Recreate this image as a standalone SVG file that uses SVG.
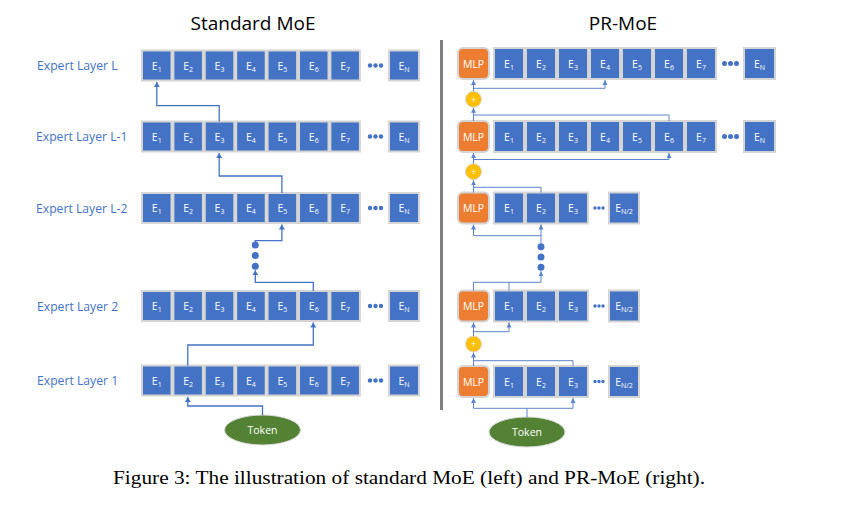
<svg xmlns="http://www.w3.org/2000/svg" width="849" height="508" viewBox="0 0 849 508">
<style>
.e{fill:#4472C4;stroke:#d4d4d4;stroke-width:2}
.m{fill:#ED7D31;stroke:#d4d4d4;stroke-width:2}
.t{font-family:"Open Sans","Noto Sans",sans-serif;fill:#fff;font-size:10.5px;text-anchor:middle}
.s{font-size:7px}
.lb{font-family:"Open Sans","Noto Sans",sans-serif;fill:#4472C4;font-size:12.2px}
.ti{font-family:"Open Sans","Noto Sans",sans-serif;fill:#000;font-size:19px;text-anchor:middle}
.dd{fill:#4472C4}
.cl{fill:none;stroke:#4472C4;stroke-width:1.3}
.cr{fill:none;stroke:#5b84cc;stroke-width:1}
.pl{fill:#FFC000;stroke:#d9d9d9;stroke-width:1}
.pt{font-family:"Open Sans",sans-serif;fill:#fff;font-size:9px;text-anchor:middle}
.tk{fill:#548235;stroke:#d9d9d9;stroke-width:1}
.tkt{font-family:"Open Sans","Noto Sans",sans-serif;fill:#fff;font-size:10.5px;text-anchor:middle}
</style>
<defs>
<marker id="a" markerUnits="userSpaceOnUse" markerWidth="6" markerHeight="6" refX="5" refY="3" orient="auto"><path d="M0,0 L5,3 L0,6 z" fill="#4472C4"/></marker>
<marker id="b" markerUnits="userSpaceOnUse" markerWidth="6" markerHeight="6" refX="5" refY="3" orient="auto"><path d="M0,0.5 L5,3 L0,5.5 z" fill="#5b84cc"/></marker>
<g id="row-left">
<rect class="e" x="0" y="0" width="29.5" height="30"/><text class="t" x="14.75" y="19">E<tspan class="s" dy="2">1</tspan></text>
<rect class="e" x="31.4" y="0" width="29.5" height="30"/><text class="t" x="46.15" y="19">E<tspan class="s" dy="2">2</tspan></text>
<rect class="e" x="62.8" y="0" width="29.5" height="30"/><text class="t" x="77.55" y="19">E<tspan class="s" dy="2">3</tspan></text>
<rect class="e" x="94.2" y="0" width="29.5" height="30"/><text class="t" x="108.95" y="19">E<tspan class="s" dy="2">4</tspan></text>
<rect class="e" x="125.6" y="0" width="29.5" height="30"/><text class="t" x="140.35" y="19">E<tspan class="s" dy="2">5</tspan></text>
<rect class="e" x="157" y="0" width="29.5" height="30"/><text class="t" x="171.75" y="19">E<tspan class="s" dy="2">6</tspan></text>
<rect class="e" x="188.4" y="0" width="29.5" height="30"/><text class="t" x="203.15" y="19">E<tspan class="s" dy="2">7</tspan></text>
<circle class="dd" cx="228" cy="15" r="2.2"/><circle class="dd" cx="233.5" cy="15" r="2.2"/><circle class="dd" cx="239" cy="15" r="2.2"/>
<rect class="e" x="247" y="0" width="30" height="30"/><text class="t" x="262" y="19">E<tspan class="s" dy="2">N</tspan></text>
</g>
<g id="row-full">
<rect class="m" x="0" y="0" width="31" height="31" rx="5"/><text class="t" x="15.5" y="19.5" font-size="11">MLP</text>
<rect class="e" x="36" y="0" width="30" height="31"/><text class="t" x="51" y="19.5">E<tspan class="s" dy="2">1</tspan></text>
<rect class="e" x="68" y="0" width="30" height="31"/><text class="t" x="83" y="19.5">E<tspan class="s" dy="2">2</tspan></text>
<rect class="e" x="100" y="0" width="30" height="31"/><text class="t" x="115" y="19.5">E<tspan class="s" dy="2">3</tspan></text>
<rect class="e" x="132" y="0" width="30" height="31"/><text class="t" x="147" y="19.5">E<tspan class="s" dy="2">4</tspan></text>
<rect class="e" x="164" y="0" width="30" height="31"/><text class="t" x="179" y="19.5">E<tspan class="s" dy="2">5</tspan></text>
<rect class="e" x="196" y="0" width="30" height="31"/><text class="t" x="211" y="19.5">E<tspan class="s" dy="2">6</tspan></text>
<rect class="e" x="228" y="0" width="30" height="31"/><text class="t" x="243" y="19.5">E<tspan class="s" dy="2">7</tspan></text>
<circle class="dd" cx="266.5" cy="15.5" r="2.5"/><circle class="dd" cx="272.5" cy="15.5" r="2.5"/><circle class="dd" cx="278.5" cy="15.5" r="2.5"/>
<rect class="e" x="286" y="0" width="31" height="31"/><text class="t" x="301.5" y="19.5">E<tspan class="s" dy="2">N</tspan></text>
</g>
<g id="row-half">
<rect class="m" x="0" y="0" width="31" height="31" rx="5"/><text class="t" x="15.5" y="19.5" font-size="11">MLP</text>
<rect class="e" x="36" y="0" width="30" height="31"/><text class="t" x="51" y="19.5">E<tspan class="s" dy="2">1</tspan></text>
<rect class="e" x="68" y="0" width="30" height="31"/><text class="t" x="83" y="19.5">E<tspan class="s" dy="2">2</tspan></text>
<rect class="e" x="100" y="0" width="30" height="31"/><text class="t" x="115" y="19.5">E<tspan class="s" dy="2">3</tspan></text>
<circle class="dd" cx="137" cy="15.5" r="1.7"/><circle class="dd" cx="141" cy="15.5" r="1.7"/><circle class="dd" cx="145" cy="15.5" r="1.7"/>
<rect class="e" x="151" y="0" width="30" height="31"/><text class="t" x="166" y="19.5">E<tspan class="s" dy="2">N/2</tspan></text>
</g>
</defs>
<rect width="849" height="508" fill="#fff"/>
<text class="ti" x="253" y="30">Standard MoE</text>
<text class="ti" x="623" y="30">PR-MoE</text>
<rect x="440" y="40" width="3" height="370" fill="#7f7f7f"/>
<g id="label-L"><text class="lb" x="37" y="70">Expert Layer L</text></g>
<g id="label-L-1"><text class="lb" x="36" y="141">Expert Layer L-1</text></g>
<g id="label-L-2"><text class="lb" x="36" y="212.5">Expert Layer L-2</text></g>
<g id="label-2"><text class="lb" x="37" y="310.5">Expert Layer 2</text></g>
<g id="label-1"><text class="lb" x="37" y="384.5">Expert Layer 1</text></g>
<g id="std-layer-L"><use href="#row-left" x="142" y="50.5"/></g>
<g id="std-layer-L-1"><use href="#row-left" x="142" y="121.5"/></g>
<g id="std-layer-L-2"><use href="#row-left" x="142" y="193"/></g>
<g id="std-layer-2"><use href="#row-left" x="142" y="291"/></g>
<g id="std-layer-1"><use href="#row-left" x="142" y="365.5"/></g>
<g id="std-dots"><circle class="dd" cx="255.3" cy="245" r="3.5"/><circle class="dd" cx="255.3" cy="255.6" r="3.5"/><circle class="dd" cx="255.3" cy="266.2" r="3.5"/></g>
<g id="std-token"><ellipse class="tk" cx="262.5" cy="430" rx="38" ry="15"/><text class="tkt" x="262.5" y="434">Token</text></g>
<g id="pr-layer-L"><use href="#row-full" x="458" y="48"/></g>
<g id="pr-layer-L-1"><use href="#row-full" x="458" y="121"/></g>
<g id="pr-layer-L-2"><use href="#row-half" x="458" y="192.5"/></g>
<g id="pr-layer-2"><use href="#row-half" x="458" y="290.5"/></g>
<g id="pr-layer-1"><use href="#row-half" x="458" y="366"/></g>
<g id="pr-dots"><circle class="dd" cx="541" cy="246.7" r="3.5"/><circle class="dd" cx="541" cy="257" r="3.5"/><circle class="dd" cx="541" cy="267.3" r="3.5"/></g>
<g id="plus-1"><circle class="pl" cx="473.5" cy="99.3" r="8"/><text class="pt" x="473.5" y="102.5">+</text></g>
<g id="plus-2"><circle class="pl" cx="473.5" cy="171.7" r="8"/><text class="pt" x="473.5" y="175">+</text></g>
<g id="plus-3"><circle class="pl" cx="473.5" cy="344" r="8"/><text class="pt" x="473.5" y="347.2">+</text></g>
<g id="pr-token"><ellipse class="tk" cx="527" cy="432" rx="38" ry="15"/><text class="tkt" x="527" y="436">Token</text></g>
<g id="connectors">
<path class="cl" d="M219.2,121.5 V105.7 H156.8 V82" marker-end="url(#a)"/>
<path class="cl" d="M281.9,193 V176 H219.2 V153" marker-end="url(#a)"/>
<path class="cl" d="M255.3,242 V240.7 H281.9 V224.5" marker-end="url(#a)"/>
<path class="cl" d="M313.3,291 V282.3 H255.3 V270.3" marker-end="url(#a)"/>
<path class="cl" d="M187.8,365.5 V345 H313.3 V322.5" marker-end="url(#a)"/>
<path class="cl" d="M262.5,415 V406 H187.8 V397" marker-end="url(#a)"/>
<path class="cr" d="M473.5,91.3 V80" marker-end="url(#b)"/>
<path class="cr" d="M473.5,88.3 H605 V80" marker-end="url(#b)"/>
<path class="cr" d="M473.5,121 V107.8" marker-end="url(#b)"/>
<path class="cr" d="M669,121 V115 H473.5"/>
<path class="cr" d="M473.5,163.7 V153" marker-end="url(#b)"/>
<path class="cr" d="M473.5,159.5 H669 V153" marker-end="url(#b)"/>
<path class="cr" d="M473.5,192.5 V180.2" marker-end="url(#b)"/>
<path class="cr" d="M541,192.5 V187.3 H473.5"/>
<path class="cr" d="M541,243 V224.5" marker-end="url(#b)"/>
<path class="cr" d="M541,235.7 H473.5 V224.5" marker-end="url(#b)"/>
<path class="cr" d="M473.5,290.5 V282.3 H541 V271.3" marker-end="url(#b)"/>
<path class="cr" d="M509,290.5 V282.3"/>
<path class="cr" d="M473.5,336 V322.5" marker-end="url(#b)"/>
<path class="cr" d="M473.5,331.7 H509 V322.5" marker-end="url(#b)"/>
<path class="cr" d="M473.5,366 V352.5" marker-end="url(#b)"/>
<path class="cr" d="M573,366 V360.7 H473.5"/>
<path class="cr" d="M527,417 V408.3"/>
<path class="cr" d="M473.5,408.3 V398" marker-end="url(#b)"/>
<path class="cr" d="M473.5,408.3 H573 V398" marker-end="url(#b)"/>
</g>
<text x="113" y="484" font-family="'Liberation Serif',serif" font-size="18.5" textLength="592" lengthAdjust="spacingAndGlyphs">Figure 3:  The illustration of standard MoE (left) and PR-MoE (right).</text>
</svg>
